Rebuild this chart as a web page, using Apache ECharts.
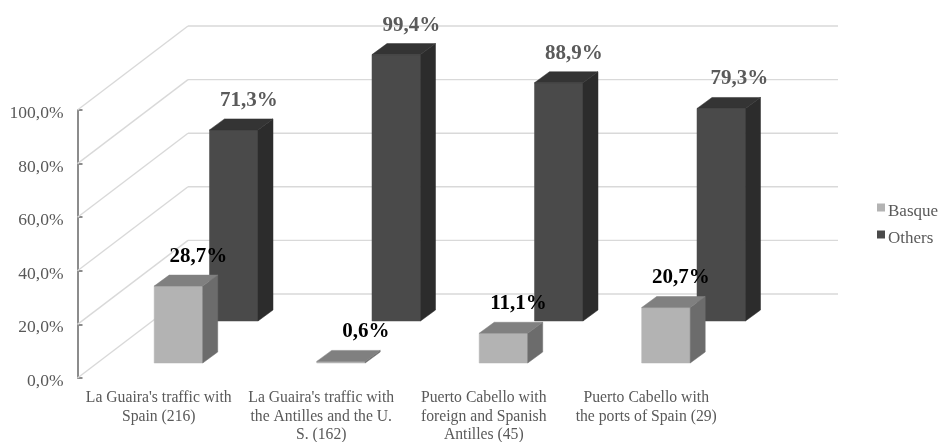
<!DOCTYPE html>
<html>
<head>
<meta charset="utf-8">
<style>html,body{margin:0;padding:0;background:#fff}#c{width:940px;height:442px}</style>
<script src="https://cdn.jsdelivr.net/npm/echarts@6/dist/echarts.min.js"></script>
</head>
<body>
<div id="c"></div>
<script>
// Shipping traffic shares, Basque vs. other shipowners
const categories = [
  "La Guaira's traffic with\nSpain (216)",
  "La Guaira's traffic with\nthe Antilles and the U.\nS. (162)",
  "Puerto Cabello with\nforeign and Spanish\nAntilles (45)",
  "Puerto Cabello with\nthe ports of Spain (29)"
];
const basque = [28.7, 0.6, 11.1, 20.7];
const others = [71.3, 99.4, 88.9, 79.3];
const wallTicks = [0, 20, 40, 60, 80, 100];

// Oblique projection: pixels moved per full depth of the chart box
const FONT = '"Liberation Serif", serif';
const WALL = { dx: 110.5, dy: 84, backRight: 838 };
const BOX = { dx: 15, dy: 11, widthRatio: 0.2985 };
const SERIES_3D = {
  Basque: { dx: 19.7, dy: 15, face: '#b3b3b3', side: '#6c6c6c', top: '#808080', label: '#000000', nudge: [5, 10, 0, 0] },
  Others: { dx: 75, dy: 57, face: '#4a4a4a', side: '#2c2c2c', top: '#343434', label: '#5a5a5a', nudge: [0, 0, 0, 3] }
};

const fmt = v => v.toFixed(1).replace('.', ',') + '%';
const poly = (points, fill) => ({ type: 'polygon', shape: { points }, style: { fill, stroke: fill, lineWidth: 0.5 } });

// One extruded bar: front face, side, top, then its value label
function renderBox(name) {
  const s = SERIES_3D[name];
  return (params, api) => {
    const idx = api.value(0), val = api.value(1);
    const top = api.coord([idx, val]);
    const base = api.coord([idx, 0]);
    const w = api.size([1, 0])[0] * BOX.widthRatio;
    const l = top[0] - w / 2 + s.dx, r = l + w;
    const yT = top[1] - s.dy, yB = base[1] - s.dy;
    const dx = BOX.dx, dy = BOX.dy;
    return {
      type: 'group',
      children: [
        poly([[l, yT], [r, yT], [r, yB], [l, yB]], s.face),
        poly([[r, yT], [r + dx, yT - dy], [r + dx, yB - dy], [r, yB]], s.side),
        poly([[l, yT], [l + dx, yT - dy], [r + dx, yT - dy], [r, yT]], s.top),
        {
          type: 'text',
          style: {
            x: (l + r) / 2 + 15 + s.nudge[idx],
            y: yT - 29.5,
            text: fmt(val),
            fill: s.label,
            font: 'bold 21px ' + FONT,
            align: 'center',
            verticalAlign: 'middle'
          }
        }
      ]
    };
  };
}

// Side wall and back wall gridlines for one axis tick
function renderWall(params, api) {
  const p = api.coord([0, api.value(0)]);
  const x0 = params.coordSys.x;
  const line = (x1, y1, x2, y2) => ({
    type: 'line',
    shape: { x1, y1, x2, y2 },
    style: { stroke: '#d9d9d9', lineWidth: 1.4 }
  });
  return {
    type: 'group',
    children: [
      line(x0, p[1], x0 + WALL.dx, p[1] - WALL.dy),
      line(x0 + WALL.dx, p[1] - WALL.dy, WALL.backRight, p[1] - WALL.dy)
    ]
  };
}

const chart = echarts.init(document.getElementById('c'), null, { renderer: 'canvas' });
chart.setOption({
  animation: false,
  backgroundColor: '#ffffff',
  grid: { left: 77.5, top: 110, width: 650, height: 268, outerBoundsMode: 'none' },
  legend: {
    left: 877,
    top: 203,
    padding: 0,
    orient: 'vertical',
    // Square sits in the upper part of the icon box, above the text's midline
    icon: 'path://M0,0H8V8H0Z M0,16L0,16',
    itemWidth: 8,
    itemHeight: 16,
    itemGap: 10,
    data: ['Basque', 'Others'],
    textStyle: { fontFamily: FONT, fontSize: 17, color: '#595959', padding: [0, 0, 0, -2] }
  },
  xAxis: {
    type: 'category',
    data: categories,
    axisLine: { show: false },
    axisTick: { show: false },
    axisLabel: { fontFamily: FONT, fontSize: 15.7, color: '#595959', lineHeight: 18.5, margin: 11, interval: 0 }
  },
  yAxis: {
    type: 'value',
    min: 0,
    max: 100,
    interval: 20,
    splitLine: { show: false },
    axisLine: { show: true, lineStyle: { color: '#8c8c8c', width: 2 } },
    axisTick: { show: true, inside: true, length: 5, lineStyle: { color: '#8c8c8c', width: 2 } },
    axisLabel: { fontFamily: FONT, fontSize: 17.5, color: '#595959', margin: 14, formatter: v => fmt(v), verticalAlign: 'top', lineHeight: 7 }
  },
  series: [
    { type: 'custom', silent: true, renderItem: renderWall, data: wallTicks.map(t => [t]), encode: { y: 0 }, z: 1 },
    { type: 'custom', name: 'Others', renderItem: renderBox('Others'), itemStyle: { color: SERIES_3D.Others.face },
      data: others.map((v, i) => [i, v]), encode: { x: 0, y: 1 }, z: 2 },
    { type: 'custom', name: 'Basque', renderItem: renderBox('Basque'), itemStyle: { color: SERIES_3D.Basque.face },
      data: basque.map((v, i) => [i, v]), encode: { x: 0, y: 1 }, z: 3 }
  ]
});
</script>
</body>
</html>
